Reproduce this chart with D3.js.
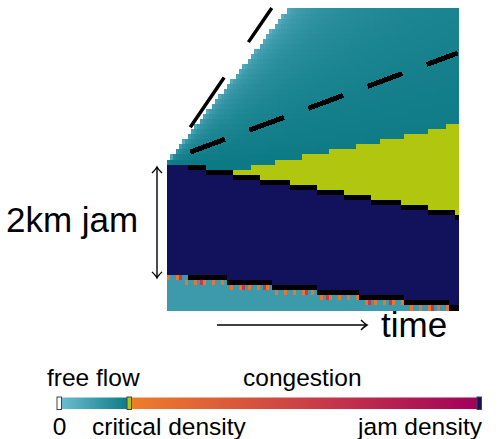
<!DOCTYPE html>
<html lang="en">
<head>
<meta charset="utf-8">
<title>Jam dissolution: space-time density</title>
<script src="https://cdn.jsdelivr.net/npm/d3@7"></script>
<style>
  body { margin: 0; background: #fff; }
  text { font-family: "Liberation Sans", Arial, sans-serif; fill: #000; }
</style>
</head>
<body>
<script>
// time in minutes, road position in km (traffic drives upward)
var times       = [0, 1, 2, 3, 4, 5, 6, 7, 8, 9, 10];
var jamFront    = [2.00, 1.90, 1.81, 1.71, 1.62, 1.52, 1.43, 1.33, 1.24, 1.14, 1.05];
var jamTail     = [0.00, -0.06, -0.12, -0.18, -0.24, -0.30, -0.36, -0.42, -0.48, -0.54, -0.60];
var capacityTop = [2.00, 1.90, 1.81, 1.93, 2.04, 2.13, 2.23, 2.34, 2.45, 2.56, 2.70];
var fanEdge     = [2.00, 2.67, 3.33, 4.00, 4.67, 5.33, 6.00, 6.67, 7.33, 8.00, 8.67];

// two vehicle traces drawn dashed
var traceA_t = [0.8, 10.0], traceA_x = [2.18, 3.97];
var traceB_t = [0.8, 3.6],  traceB_x = [2.63, 4.78];

// densities, veh/km
var rhoJam = 150, rhoCrit = 25, rhoUp = 13;
var freeColors = ["#6fbdd3", "#0c7a85"];
var congColors = ["#ef7d2b", "#cc4046", "#a1005b"];
var exactColors = {zero: "#ffffff", crit: "#b1c70f", jam: "#12125c"};

var topLabels = ["free flow", "congestion"];
var barLabels = ["0", "critical density", "jam density"];

var W = 502, H = 439;
var svg = d3.select("body").append("svg")
    .attr("width", W)
    .attr("height", H);

var x = d3.scaleLinear().domain([0, 10]).range([167, 458]);
var y = d3.scaleLinear().domain([-0.67, 4.78]).range([310, 8]);

var freeScale = d3.scaleLinear().domain([0, rhoCrit]).range(freeColors);
var congScale = d3.scaleLinear().domain([rhoCrit, (rhoCrit + rhoJam) / 2, rhoJam]).range(congColors);

function colorOf(rho) {
	if (rho === 0) return exactColors.zero;
	if (rho === rhoCrit) return exactColors.crit;
	if (rho === rhoJam) return exactColors.jam;
	if (rho < rhoCrit) return freeScale(rho);
	return congScale(rho);
}

function along(arr) {
	return d3.scaleLinear().domain(times).range(arr).clamp(true);
}
var frontAt = along(jamFront), tailAt = along(jamTail),
    capAt = along(capacityTop), edgeAt = along(fanEdge);
var edgeSpeed = (fanEdge[1] - fanEdge[0]) / (times[1] - times[0]);

function density(t, s) {
	if (s < tailAt(t)) return rhoUp;
	if (s <= frontAt(t)) return rhoJam;
	if (s <= capAt(t)) return rhoCrit;
	if (s >= edgeAt(t)) return 0;
	var r = (s - jamFront[0]) / t / edgeSpeed;
	var f = Math.pow(Math.max(0, Math.min(1, 1 - r)), 0.3);
	return Math.min(f * rhoCrit, rhoCrit * 0.999);
}

// grid of cells
var nCols = 97, nRows = 60;
var dt = 10 / nCols, ds = (4.78 + 0.67) / nRows;
var cells = [];
for (var i = 0; i < nCols; i++) {
	var t = (i + 0.5) * dt;
	var rowFront = Math.floor((frontAt(t) + 0.67) / ds);
	var rowTail = Math.floor((tailAt(t) + 0.67) / ds);
	for (var j = 0; j < nRows; j++) {
		var s = -0.67 + (j + 0.5) * ds;
		var c = colorOf(density(t, s));
		if (t > 0.75 && (j === rowFront || j === rowTail)) c = "#000";
		else if (j === rowTail - 1 && i % 3 === 0) c = colorOf(rhoCrit + 8);
		else if (j === rowTail - 1 && i % 7 === 4) c = colorOf(rhoCrit + 70);
		cells.push({t0: i * dt, s0: -0.67 + j * ds, color: c});
	}
}

svg.append("g")
	.attr("shape-rendering", "crispEdges")
	.selectAll("rect")
	.data(cells)
	.enter()
	.append("rect")
	.attr("x", function(d) { return x(d.t0); })
	.attr("y", function(d) { return y(d.s0 + ds); })
	.attr("width", function(d) { return x(d.t0 + dt) - x(d.t0) + 0.5; })
	.attr("height", function(d) { return y(d.s0) - y(d.s0 + ds) + 0.5; })
	.attr("fill", function(d) { return d.color; });

svg.append("clipPath").attr("id", "plotclip")
	.append("rect")
	.attr("x", x(0)).attr("y", y(4.78))
	.attr("width", x(10) - x(0)).attr("height", y(-0.67) - y(4.78));

var line = d3.line()
	.x(function(d) { return x(d[0]); })
	.y(function(d) { return y(d[1]); });

svg.append("path")
	.attr("d", line(d3.zip(traceA_t, traceA_x)))
	.attr("clip-path", "url(#plotclip)")
	.attr("fill", "none")
	.attr("stroke", "#000")
	.attr("stroke-width", 5)
	.attr("stroke-dasharray", "37,26")
	.attr("shape-rendering", "crispEdges");

svg.append("path")
	.attr("d", line(d3.zip(traceB_t, traceB_x)))
	.attr("fill", "none")
	.attr("stroke", "#000")
	.attr("stroke-width", 3.5)
	.attr("stroke-dasharray", "60,43");

// "2km jam" double arrow
var ax = 157, ay0 = y(jamFront[0]) + 5, ay1 = y(jamTail[0]) + 5;
svg.append("line")
	.attr("x1", ax).attr("x2", ax).attr("y1", ay0).attr("y2", ay1)
	.attr("stroke", "#000").attr("stroke-width", 1.4);
svg.append("path")
	.attr("d", "M" + (ax - 5) + "," + (ay0 + 6) + " Q" + (ax - 1) + "," + (ay0 + 2) + " " + ax + "," + ay0 +
	           " Q" + (ax + 1) + "," + (ay0 + 2) + " " + (ax + 5) + "," + (ay0 + 6) +
	           " M" + (ax - 5) + "," + (ay1 - 6) + " Q" + (ax - 1) + "," + (ay1 - 2) + " " + ax + "," + ay1 +
	           " Q" + (ax + 1) + "," + (ay1 - 2) + " " + (ax + 5) + "," + (ay1 - 6))
	.attr("fill", "none").attr("stroke", "#000").attr("stroke-width", 1.4);

svg.append("text")
	.attr("x", 6).attr("y", 232)
	.style("font-size", "35px")
	.text("2km jam");

// time arrow
var tx0 = 217, tx1 = 367, ty = 325;
svg.append("line")
	.attr("x1", tx0).attr("x2", tx1).attr("y1", ty).attr("y2", ty)
	.attr("stroke", "#000").attr("stroke-width", 1.4);
svg.append("path")
	.attr("d", "M" + (tx1 - 6) + "," + (ty - 5) + " Q" + (tx1 - 2) + "," + (ty - 1) + " " + tx1 + "," + ty +
	           " Q" + (tx1 - 2) + "," + (ty + 1) + " " + (tx1 - 6) + "," + (ty + 5))
	.attr("fill", "none").attr("stroke", "#000").attr("stroke-width", 1.4);

svg.append("text")
	.attr("x", 381).attr("y", 337)
	.style("font-size", "35px")
	.text("time");

// colour bar
var cb = d3.scaleLinear().domain([0, rhoCrit, rhoJam]).range([59.5, 129.5, 479.5]);
var cbY = 397.5, cbH = 11.5;
var defs = svg.append("defs");
var gFree = defs.append("linearGradient").attr("id", "gfree");
gFree.selectAll("stop").data(freeColors).enter().append("stop")
	.attr("offset", function(d, i) { return i / (freeColors.length - 1); })
	.attr("stop-color", function(d) { return d; });
var gCong = defs.append("linearGradient").attr("id", "gcong");
gCong.selectAll("stop").data(congColors).enter().append("stop")
	.attr("offset", function(d, i) { return i / (congColors.length - 1); })
	.attr("stop-color", function(d) { return d; });

svg.append("rect")
	.attr("x", cb(0)).attr("y", cbY)
	.attr("width", cb(rhoCrit) - cb(0)).attr("height", cbH)
	.attr("fill", "url(#gfree)");
svg.append("rect")
	.attr("x", cb(rhoCrit)).attr("y", cbY)
	.attr("width", cb(rhoJam) - cb(rhoCrit)).attr("height", cbH)
	.attr("fill", "url(#gcong)");

svg.selectAll(".marker")
	.data([0, rhoCrit, rhoJam])
	.enter()
	.append("rect")
	.attr("class", "marker")
	.attr("x", function(d) { return cb(d) - 2.5; })
	.attr("y", cbY - 0.5)
	.attr("width", 4.5)
	.attr("height", cbH + 1)
	.attr("fill", function(d) { return colorOf(d); })
	.attr("stroke", "#444")
	.attr("stroke-width", 1);

svg.append("text").attr("x", 47).attr("y", 386)
	.style("font-size", "24.5px").text(topLabels[0]);
svg.append("text").attr("x", 243).attr("y", 386)
	.style("font-size", "24.5px").text(topLabels[1]);

svg.append("text").attr("x", cb(0)).attr("y", 435)
	.attr("text-anchor", "middle")
	.style("font-size", "24.5px").text(barLabels[0]);
svg.append("text").attr("x", 92).attr("y", 435)
	.style("font-size", "24.5px").text(barLabels[1]);
svg.append("text").attr("x", 482).attr("y", 435)
	.attr("text-anchor", "end")
	.style("font-size", "24.5px").text(barLabels[2]);
</script>
</body>
</html>
